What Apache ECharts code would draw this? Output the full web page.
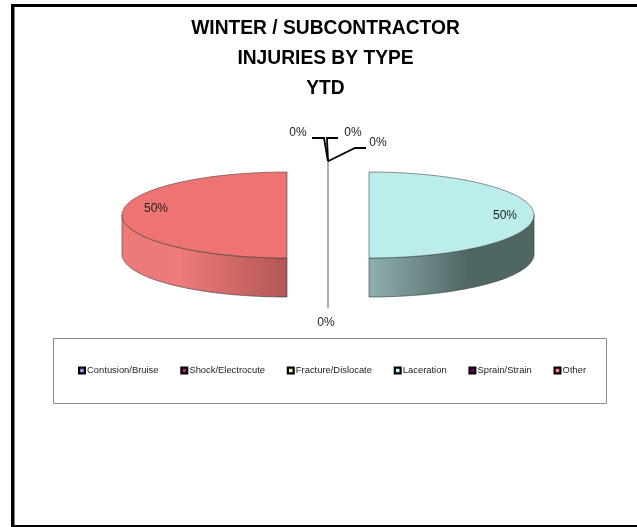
<!DOCTYPE html>
<html><head><meta charset="utf-8">
<style>html,body{margin:0;padding:0;background:#fff}#c{width:637px;height:527px}</style>
<script src="https://cdn.jsdelivr.net/npm/echarts@6/dist/echarts.min.js"></script>
</head><body><div id="c"></div>
<script>
var titleLines = ['WINTER / SUBCONTRACTOR', 'INJURIES BY TYPE', 'YTD'];
var categories = ['Contusion/Bruise', 'Shock/Electrocute', 'Fracture/Dislocate', 'Laceration', 'Sprain/Strain', 'Other'];
var values = [0, 0, 0, 1, 0, 1];
var legendColors = ['#9999FF', '#993366', '#FFFFCC', '#CCFFFF', '#660066', '#FF8080'];

// pie geometry (pseudo-3D tilted pie)
var CX = 328, CY = 215, RX = 165, RY = 43, DEPTH = 39, EX = 41, EY = 10.7;
var topColors = {3: '#BBEDED', 5: '#EF7373'};
var wallStops = {
  3: [[0, '#8FB0AF'], [0.6, '#4F6665'], [1, '#4F6665']],
  5: [[0, '#EC7A7A'], [0.35, '#EE7A7A'], [1, '#B35656']]
};
// label centre and leader path, by category
var labelAt = [[298, 133], [353, 133], [378, 143], [505, 216], [326, 323], [156, 209]];
var leaders = [
  [[324, 138], [312, 138]],
  [[327, 138], [338, 138]],
  [[355, 148], [366, 148]],
  null, null, null
];

var total = values.reduce(function (a, b) { return a + b; }, 0);

function pt(cx, cy, a, dy) {
  return [cx + RX * Math.sin(a), cy - RY * Math.cos(a) + (dy || 0)];
}
function arc(cx, cy, a0, a1, dy) {
  var n = 72, out = [];
  for (var i = 0; i <= n; i++) out.push(pt(cx, cy, a0 + (a1 - a0) * i / n, dy));
  return out;
}
function makeRender(idx) {
  return function (params, api) {
    var v = api.value(0), before = 0;
    for (var i = 0; i < idx; i++) before += values[i];
    var a0 = before / total * 2 * Math.PI, a1 = a0 + v / total * 2 * Math.PI, mid = (a0 + a1) / 2;
    var cx = CX + EX * Math.sin(mid), cy = CY - EY * Math.cos(mid);
    var kids = [];
    if (v > 0) {
      var w0 = Math.max(a0, Math.PI / 2), w1 = Math.min(a1, 3 * Math.PI / 2);
      var top = arc(cx, cy, w0, w1), bot = arc(cx, cy, w1, w0, DEPTH);
      var xs = top.map(function (p) { return p[0]; });
      var x0 = Math.min.apply(null, xs), x1 = Math.max.apply(null, xs);
      var stops = wallStops[idx].map(function (s) { return {offset: s[0], color: s[1]}; });
      kids.push({type: 'polygon', shape: {points: top.concat(bot)}, style: {
        fill: new echarts.graphic.LinearGradient(x0, 0, x1, 0, stops, true),
        stroke: 'rgba(50,60,60,0.6)', lineWidth: 1}});
      var face = [[cx, cy]].concat(arc(cx, cy, a0, a1));
      kids.push({type: 'polygon', shape: {points: face}, style: {
        fill: topColors[idx], stroke: 'rgba(60,60,60,0.55)', lineWidth: 1}});
    } else {
      // a zero slice collapses to a single edge-on line
      var r = pt(cx, cy, a0);
      var yTop = Math.min(cy, r[1]), yBot = Math.max(cy, r[1]) + DEPTH;
      kids.push({type: 'polyline', shape: {points: [[cx, yTop], [cx, yBot]]},
        style: {stroke: '#ABABAB', lineWidth: 2, fill: null}});
      if (leaders[idx]) {
        kids.push({type: 'polyline', z2: 5, shape: {points: [r].concat(leaders[idx])},
          style: {stroke: '#000', lineWidth: 1.8, fill: null}});
      }
    }
    kids.push({type: 'text', z2: 10, x: labelAt[idx][0], y: labelAt[idx][1], style: {
      text: Math.round(v / total * 100) + '%', fill: '#222',
      font: '12px "Liberation Sans", Arial, sans-serif', align: 'center', verticalAlign: 'middle'}});
    return {type: 'group', children: kids};
  };
}

var drawOrder = [0, 1, 2, 4, 3, 5];
var series = categories.map(function (name, i) {
  return {
    type: 'custom', name: name, coordinateSystem: 'none', silent: true,
    z: 2 + drawOrder.indexOf(i), data: [[values[i]]], renderItem: makeRender(i),
    itemStyle: {color: legendColors[i]}
  };
});

var titleY = [28, 58, 88];
var titleTexts = titleLines.map(function (t, i) {
  return {type: 'text', silent: true, x: 325.5, y: titleY[i], scaleX: 0.915, style: {
    text: t, fill: '#000', font: 'bold 21px "Liberation Sans", Arial, sans-serif',
    align: 'center', verticalAlign: 'middle'}};
});

var chart = echarts.init(document.getElementById('c'), null, {renderer: 'canvas'});
chart.setOption({
  animation: false,
  backgroundColor: '#fff',
  legend: {
    left: 78, top: 366, padding: 0, itemGap: 21.8, itemWidth: 5.8, itemHeight: 5.8, orient: 'horizontal',
    selectedMode: false,
    textStyle: {fontFamily: '"Liberation Sans", Arial, sans-serif', fontSize: 9.4, color: '#222', padding: [0, 0, 0, -2.8]},
    data: categories.map(function (n, i) {
      return {name: n, icon: 'rect', itemStyle: {color: legendColors[i], borderColor: '#000', borderWidth: 2.2}};
    })
  },
  graphic: [
    {type: 'rect', silent: true, shape: {x: 11, y: 4, width: 3.5, height: 523}, style: {fill: '#000'}},
    {type: 'rect', silent: true, shape: {x: 11, y: 4, width: 626, height: 3}, style: {fill: '#000'}},
    {type: 'rect', silent: true, shape: {x: 11, y: 525, width: 626, height: 2}, style: {fill: '#000'}},
    {type: 'rect', silent: true, shape: {x: 53.5, y: 338.5, width: 553, height: 65}, style: {fill: '#fff', stroke: '#8C8C8C', lineWidth: 1}}
  ].concat(titleTexts),
  series: series
});
</script></body></html>
